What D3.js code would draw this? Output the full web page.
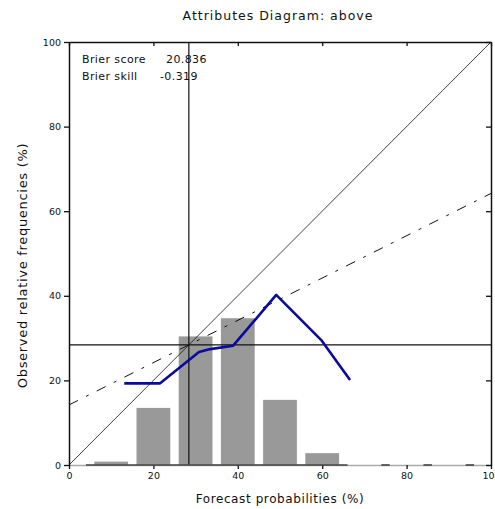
<!DOCTYPE html>
<html>
<head>
<meta charset="utf-8">
<style>
  body { margin: 0; background: #fff; }
  svg text { font-family: "DejaVu Sans", Verdana, sans-serif; fill: #111; }
</style>
</head>
<body>
<div id="chart"></div>
<script src="https://d3js.org/d3.v7.min.js"></script>
<script>
// forecast bins (bar centres, %) and observed frequency histogram
const binCentres = [10, 20, 30, 40, 50, 60];
const binHeights = [0.8, 13.5, 30.4, 34.7, 15.4, 2.8];
// empty bins drawn as dark segments on the baseline
const emptyBins = [[4, 66], [74, 76], [84, 86], [94, 96]];
// reliability curve
const relX = [13.1, 21.6, 30.8, 33.5, 38.9, 49.1, 59.9, 66.6];
const relY = [19.3, 19.3, 26.7, 27.4, 28.2, 40.2, 29.4, 20.1];
const climatology = 28.4;
const ticks = [0, 20, 40, 60, 80, 100];
const stats = [["Brier score", "20.836"], ["Brier skill", "-0.319"]];

const width = 495, height = 509;
const margin = {left: 69, right: 4, top: 42, bottom: 44};

const svg = d3.select("#chart").append("svg")
  .attr("width", width).attr("height", height);

const x = d3.scaleLinear().domain([0, 100]).range([margin.left, width - margin.right]);
const y = d3.scaleLinear().domain([0, 100]).range([height - margin.bottom, margin.top]);

// bars
svg.append("g").selectAll("rect")
  .data(binCentres)
  .join("rect")
    .attr("x", d => x(d - 4))
    .attr("width", d => x(d + 4) - x(d - 4))
    .attr("y", (d, i) => y(binHeights[i]))
    .attr("height", (d, i) => y(0) - y(binHeights[i]))
    .attr("fill", "#999");

// perfect reliability diagonal
svg.append("line")
  .attr("x1", x(0)).attr("y1", y(0)).attr("x2", x(100)).attr("y2", y(100))
  .attr("stroke", "#111").attr("stroke-width", 0.8);

// no-skill line
svg.append("line")
  .attr("x1", x(0)).attr("y1", y(climatology / 2))
  .attr("x2", x(100)).attr("y2", y((100 + climatology) / 2))
  .attr("stroke", "#111").attr("stroke-width", 1)
  .attr("stroke-dasharray", "10,9,3,9");

// climatology lines
svg.append("line")
  .attr("x1", x(climatology)).attr("x2", x(climatology))
  .attr("y1", y(0)).attr("y2", y(100))
  .attr("stroke", "#111").attr("stroke-width", 1.2);
svg.append("line")
  .attr("x1", x(0)).attr("x2", x(100))
  .attr("y1", y(climatology)).attr("y2", y(climatology))
  .attr("stroke", "#111").attr("stroke-width", 1.2);

// axes (outer ticks left/bottom, inner ticks top/right)
const fmt = d => d;
svg.append("g")
  .attr("transform", `translate(0,${y(0)})`)
  .call(d3.axisBottom(x).tickValues(ticks).tickSize(4).tickSizeOuter(0).tickFormat(fmt))
  .call(g => g.select(".domain").attr("stroke", "#aaa").attr("stroke-width", 1.5));
svg.append("g")
  .attr("transform", `translate(${x(0)},0)`)
  .call(d3.axisLeft(y).tickValues(ticks).tickSize(5).tickSizeOuter(0).tickFormat(fmt))
  .call(g => g.select(".domain").attr("stroke", "#111").attr("stroke-width", 1.5));
svg.append("g")
  .attr("transform", `translate(0,${y(100)})`)
  .call(d3.axisBottom(x).tickValues(ticks).tickSize(4).tickSizeOuter(0).tickFormat(""))
  .call(g => g.select(".domain").attr("stroke", "#111").attr("stroke-width", 1.5));
svg.append("g")
  .attr("transform", `translate(${x(100)},0)`)
  .call(d3.axisLeft(y).tickValues(ticks).tickSize(5).tickSizeOuter(0).tickFormat(""))
  .call(g => g.select(".domain").attr("stroke", "#111").attr("stroke-width", 1.5));
svg.selectAll(".tick line").attr("stroke", "#111").attr("stroke-width", 1.3);
svg.selectAll(".tick text")
  .style("font-family", "'DejaVu Sans', Verdana, sans-serif")
  .style("font-size", "9.5px").attr("fill", "#111");

// empty-bin marks on the baseline
svg.append("g").selectAll("line")
  .data(emptyBins)
  .join("line")
    .attr("x1", d => x(d[0])).attr("x2", d => x(d[1]))
    .attr("y1", y(0)).attr("y2", y(0))
    .attr("stroke", "#444").attr("stroke-width", 1.6);

// reliability curve
const pts = relX.map((v, i) => [v, relY[i]]);
svg.append("path")
  .datum(pts)
  .attr("d", d3.line().x(d => x(d[0])).y(d => y(d[1])))
  .attr("fill", "none")
  .attr("stroke", "#0a0a9c")
  .attr("stroke-width", 2.6)
  .attr("stroke-linejoin", "round");

// stats text
const st = svg.append("g").style("font-size", "11px").style("letter-spacing", "0.4px");
stats.forEach((s, i) => {
  st.append("text").attr("x", 82).attr("y", 63 + i * 17).text(s[0]);
  st.append("text").attr("x", s[1].startsWith("-") ? 160 : 166).attr("y", 63 + i * 17).text(s[1]);
});

// titles
svg.append("text")
  .attr("x", 278).attr("y", 20)
  .attr("text-anchor", "middle")
  .style("font-size", "12.5px")
  .style("letter-spacing", "1px")
  .text("Attributes Diagram: above");
svg.append("text")
  .attr("x", 280).attr("y", 503)
  .attr("text-anchor", "middle")
  .style("font-size", "12px")
  .style("letter-spacing", "0.6px")
  .text("Forecast probabilities (%)");
svg.append("text")
  .attr("transform", `translate(27,${(y(0) + y(100)) / 2 + 12}) rotate(-90)`)
  .attr("text-anchor", "middle")
  .style("font-size", "13px")
  .style("letter-spacing", "0.7px")
  .text("Observed relative frequencies (%)");
</script>
</body>
</html>
